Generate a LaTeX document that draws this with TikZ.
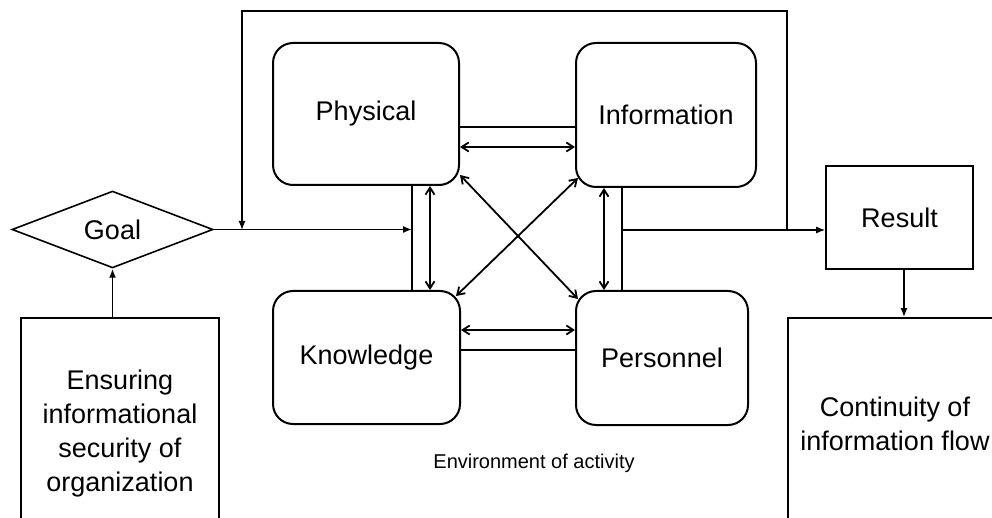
\documentclass[tikz,border=0pt]{standalone}
\usepackage{fontspec}
\setmainfont{Liberation Sans}
\usetikzlibrary{shapes.geometric,arrows.meta,calc}
\begin{document}
\begin{tikzpicture}[x=1pt,y=-1pt,
  every node/.style={font=\fontsize{27}{34}\selectfont},
  rbox/.style={draw,line width=2pt,rounded corners=20pt,inner sep=0pt},
  sbox/.style={draw,line width=1.6pt,inner sep=0pt,align=center},
  conn/.style={line width=1.8pt},
  dbl/.style={conn,{Straight Barb[length=7pt,width=9pt]}-{Straight Barb[length=7pt,width=9pt]}},
  one/.style={conn,-{Latex[length=9pt,width=7pt]}},
  thinline/.style={line width=1.3pt,-{Latex[length=9pt,width=7pt]}}]
\useasboundingbox (0,0) rectangle (992,518);
\clip (0,0) rectangle (992,518);
% main boxes
\node[rbox,minimum width=186pt,minimum height=142pt] (phys) at (366,114) {Physical};
\node[rbox,minimum width=180pt,minimum height=144pt] (info) at (666,115) {Information};
\node[rbox,minimum width=187pt,minimum height=133pt] (know) at (366.5,357.5) {Knowledge};
\node[rbox,minimum width=172pt,minimum height=134pt] (pers) at (662,358) {Personnel};
\node[draw,diamond,line width=1.6pt,inner sep=0pt,minimum width=201pt,minimum height=75pt] (goal) at (112.5,229.5) {Goal};
\node[sbox,minimum width=198pt,minimum height=232pt] (ens) at (120,434) {Ensuring\\informational\\security of\\organization};
\node[sbox,minimum width=147pt,minimum height=103pt] (res) at (899.5,217.5) {Result};
\node[sbox,minimum width=214pt,minimum height=212pt] (cont) at (895,424) {Continuity of\\information flow};
\node[font=\fontsize{20}{24}\selectfont] (env) at (534,463) {Environment of activity};
% helper coordinates
\coordinate (h1) at (0,127);
\coordinate (h2) at (0,147);
\coordinate (h3) at (0,330);
\coordinate (h4) at (0,350);
\coordinate (v1) at (412,0);
\coordinate (v2) at (430,0);
\coordinate (v3) at (604,0);
\coordinate (v4) at (622,0);
\coordinate (gy) at (0,230);
\coordinate (loopR) at (787,11);
\coordinate (loopL) at (242,11);
\coordinate (rx) at (904,0);
% connectors between the four boxes
\draw[conn] (phys.east |- h1) -- (info.west |- h1);
\draw[dbl] (phys.east |- h2) -- (info.west |- h2);
\draw[dbl] (know.east |- h3) -- (pers.west |- h3);
\draw[conn] (know.east |- h4) -- (pers.west |- h4);
\draw[conn] (v1 |- phys.south) -- (v1 |- know.north);
\draw[dbl] (v2 |- phys.south) -- (v2 |- know.north);
\draw[dbl] (v3 |- info.south) -- (v3 |- pers.north);
\draw[conn] (v4 |- info.south) -- (v4 |- pers.north);
\draw[dbl] ($(phys.south east)+(0,-11)$) -- ($(pers.north west)+(3,9)$);
\draw[dbl] ($(info.south west)+(3,-10)$) -- ($(know.north east)+(-5,6)$);
% goal, result
\draw[one] (goal.south |- ens.north) -- (goal.south);
\draw[thinline] (goal.east) -- (v1 |- goal.east);
\draw[thinline] (v4 |- gy) -- (res.west |- gy);
\draw[thinline] (loopR |- gy) -- (loopR) -- (loopL) -- (loopL |- gy);
\draw[one] (rx |- res.south) -- (rx |- cont.north);
\end{tikzpicture}
\end{document}
